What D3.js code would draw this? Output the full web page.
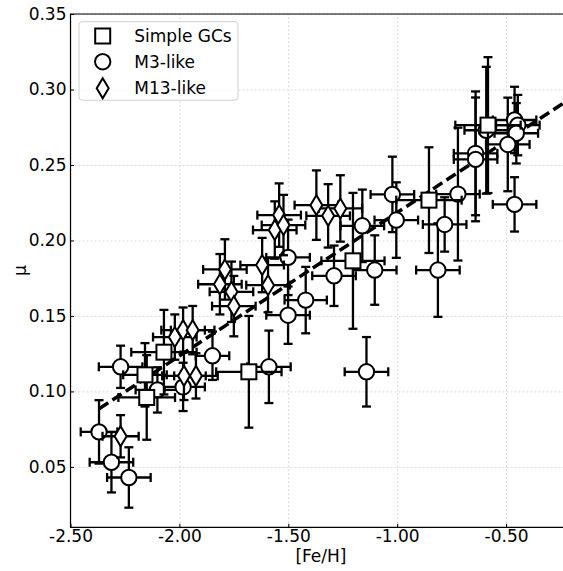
<!DOCTYPE html>
<html>
<head>
	<meta charset="UTF-8">
	<script src="https://d3js.org/d3.v7.min.js"></script>
	<style>
		body{ margin: 0; background-color: #ffffff; }
		svg{ display: block; }
		text{ font-family: "DejaVu Sans", sans-serif; }
	</style>
</head>
<body>
	<div class="chart"></div>
	<script type="text/javascript">
		// Simple GCs
		var simpleFeh    = [-2.158, -2.150, -2.071, -1.681, -1.203, -0.854, -0.583];
		var simpleMu     = [0.111, 0.096, 0.126, 0.113, 0.1865, 0.2267, 0.2764];
		var simpleFehErr = [0.10, 0.13, 0.15, 0.15, 0.145, 0.15, 0.15];
		var simpleMuErr  = [0.021, 0.028, 0.028, 0.037, 0.045, 0.035, 0.045];

		// M3-like
		var m3Feh    = [-2.369, -2.312, -2.232, -2.270, -2.101, -1.983, -1.848, -1.501, -1.501, -1.420,
		                -1.290, -1.160, -1.103, -1.022, -1.004, -1.589, -1.141, -0.782, -0.813, -0.721,
		                -0.640, -0.640, -0.591, -0.461, -0.446, -0.453, -0.492, -0.461];
		var m3Mu     = [0.0732, 0.0531, 0.043, 0.1163, 0.101, 0.103, 0.1236, 0.1888, 0.1505, 0.1605,
		                0.1766, 0.2097, 0.1804, 0.2305, 0.2135, 0.1163, 0.113, 0.2106, 0.1804, 0.2307,
		                0.2577, 0.2537, 0.273, 0.2798, 0.2764, 0.271, 0.2636, 0.2239];
		var m3FehErr = [0.084, 0.10, 0.10, 0.10, 0.10, 0.10, 0.077, 0.10, 0.10, 0.097,
		                0.10, 0.10, 0.10, 0.10, 0.10, 0.10, 0.10, 0.10, 0.10, 0.10,
		                0.10, 0.10, 0.10, 0.10, 0.10, 0.10, 0.10, 0.10];
		var m3MuErr  = [0.021, 0.020, 0.020, 0.014, 0.015, 0.016, 0.016, 0.025, 0.019, 0.022,
		                0.020, 0.024, 0.023, 0.025, 0.025, 0.024, 0.023, 0.018, 0.031, 0.044,
		                0.041, 0.041, 0.042, 0.022, 0.020, 0.020, 0.031, 0.018];

		// M13-like
		var m13Feh    = [-2.270, -1.979, -1.924, -2.021, -1.983, -1.939, -1.791, -1.814, -1.761, -1.750,
		                 -1.620, -1.593, -1.542, -1.562, -1.522, -1.371, -1.317, -1.261];
		var m13Mu     = [0.0703, 0.1103, 0.1103, 0.136, 0.1406, 0.1406, 0.1808, 0.171, 0.166, 0.1565,
		                 0.1837, 0.1704, 0.2168, 0.2069, 0.2102, 0.2234, 0.2163, 0.2212];
		var m13FehErr = [0.083, 0.10, 0.10, 0.10, 0.10, 0.10, 0.10, 0.10, 0.10, 0.10,
		                 0.10, 0.10, 0.10, 0.10, 0.10, 0.10, 0.10, 0.10];
		var m13MuErr  = [0.014, 0.016, 0.015, 0.015, 0.015, 0.016, 0.020, 0.020, 0.020, 0.020,
		                 0.018, 0.018, 0.021, 0.019, 0.020, 0.023, 0.021, 0.022];

		// linear fit
		var fitSlope = 0.095;
		var fitIntercept = 0.3135;
		var fitRange = [-2.369, -0.2];

		var xTicks = [-2.5, -2.0, -1.5, -1.0, -0.5];
		var yTicks = [0.05, 0.10, 0.15, 0.20, 0.25, 0.30, 0.35];
		var legendLabels = ["Simple GCs", "M3-like", "M13-like"];

		var w = 563;
		var h = 571;
		var l = 70.5, r = 571.4, u = 14, b = 527.3;

		var xScale = d3.scaleLinear().domain([-2.5, -0.2]).range([l, r]);
		var yScale = d3.scaleLinear().domain([0.01, 0.35]).range([b, u]);

		var svg = d3.select("div.chart")
					.append("svg")
					.attr("width", w)
					.attr("height", h);

		//grid
		svg.append("g").attr("transform", "translate(0," + b + ")")
		   .call(d3.axisBottom(xScale).tickValues(xTicks).tickSize(-(b - u)).tickFormat(""))
		   .call(function(g){ g.select(".domain").remove(); })
		   .selectAll("line").attr("stroke", "#cfcfcf").attr("stroke-width", 0.8).attr("stroke-dasharray", "2,2");
		svg.append("g").attr("transform", "translate(" + l + ",0)")
		   .call(d3.axisLeft(yScale).tickValues(yTicks).tickSize(-(r - l)).tickFormat(""))
		   .call(function(g){ g.select(".domain").remove(); })
		   .selectAll("line").attr("stroke", "#cfcfcf").attr("stroke-width", 0.8).attr("stroke-dasharray", "2,2");

		//fit line
		svg.append("line")
		   .attr("x1", xScale(fitRange[0])).attr("y1", yScale(fitSlope * fitRange[0] + fitIntercept))
		   .attr("x2", xScale(fitRange[1])).attr("y2", yScale(fitSlope * fitRange[1] + fitIntercept))
		   .attr("stroke", "black").attr("stroke-width", 3.5).attr("stroke-dasharray", "11,5");

		function diamondPath(hh, ww){
			return "M0," + (-hh) + "L" + ww + ",0L0," + hh + "L" + (-ww) + ",0Z";
		}

		function drawMarker(sel, shape){
			if(shape == "square"){
				sel.append("rect").attr("x", -7.5).attr("y", -7.5).attr("width", 15).attr("height", 15);
			} else if(shape == "circle"){
				sel.append("circle").attr("r", 7.7);
			} else {
				sel.append("path").attr("d", diamondPath(10, 6));
			}
		}

		function drawGroup(feh, mu, fehErr, muErr, shape){
			var data = feh.map(function(d, i){
				return {x: d, y: mu[i], ex: fehErr[i], ey: muErr[i]};
			});
			var cap = 4.5;
			var bars = svg.append("g").attr("stroke", "black").attr("stroke-width", 2.3)
						  .selectAll("g").data(data).enter().append("g");
			bars.append("line")
				.attr("x1", function(d){ return xScale(d.x - d.ex); })
				.attr("x2", function(d){ return xScale(d.x + d.ex); })
				.attr("y1", function(d){ return yScale(d.y); })
				.attr("y2", function(d){ return yScale(d.y); });
			bars.append("line")
				.attr("x1", function(d){ return xScale(d.x); })
				.attr("x2", function(d){ return xScale(d.x); })
				.attr("y1", function(d){ return yScale(d.y - d.ey); })
				.attr("y2", function(d){ return yScale(d.y + d.ey); });
			//caps
			[-1, 1].forEach(function(s){
				bars.append("line")
					.attr("x1", function(d){ return xScale(d.x + s * d.ex); })
					.attr("x2", function(d){ return xScale(d.x + s * d.ex); })
					.attr("y1", function(d){ return yScale(d.y) - cap; })
					.attr("y2", function(d){ return yScale(d.y) + cap; });
				bars.append("line")
					.attr("x1", function(d){ return xScale(d.x) - cap; })
					.attr("x2", function(d){ return xScale(d.x) + cap; })
					.attr("y1", function(d){ return yScale(d.y + s * d.ey); })
					.attr("y2", function(d){ return yScale(d.y + s * d.ey); });
			});
			var marks = svg.append("g").attr("fill", "white").attr("stroke", "black").attr("stroke-width", 2)
						   .selectAll("g").data(data).enter().append("g")
						   .attr("transform", function(d){ return "translate(" + xScale(d.x) + "," + yScale(d.y) + ")"; });
			drawMarker(marks, shape);
		}

		drawGroup(m3Feh, m3Mu, m3FehErr, m3MuErr, "circle");
		drawGroup(simpleFeh, simpleMu, simpleFehErr, simpleMuErr, "square");
		drawGroup(m13Feh, m13Mu, m13FehErr, m13MuErr, "diamond");

		//frame
		svg.append("path")
		   .attr("d", "M" + r + "," + u + "H" + l + "V" + b + "H" + r)
		   .attr("fill", "none").attr("stroke", "black").attr("stroke-width", 1.2);

		//axes
		var xAxis = d3.axisBottom(xScale).tickValues(xTicks).tickSizeInner(-3.5).tickSizeOuter(0).tickPadding(3)
					  .tickFormat(function(d){ return d.toFixed(2); });
		var yAxis = d3.axisLeft(yScale).tickValues(yTicks).tickSizeInner(-3.5).tickSizeOuter(0).tickPadding(4)
					  .tickFormat(function(d){ return d.toFixed(2); });
		var gx = svg.append("g").attr("transform", "translate(0," + b + ")").call(xAxis);
		var gy = svg.append("g").attr("transform", "translate(" + l + ",0)").call(yAxis);
		[gx, gy].forEach(function(g){
			g.select(".domain").remove();
			g.selectAll("text").attr("font-size", "17px").attr("font-family", "DejaVu Sans").attr("fill", "black");
			g.selectAll("line").attr("stroke", "black");
		});

		//labels
		svg.append("text").attr("x", (l + r) / 2).attr("y", 562).attr("text-anchor", "middle")
		   .attr("font-size", "17px").text("[Fe/H]");
		svg.append("text").attr("transform", "translate(26," + ((u + b) / 2) + ") rotate(-90)")
		   .attr("text-anchor", "middle").attr("font-size", "17px").text("μ");

		//legend
		var lg = svg.append("g");
		lg.append("rect").attr("x", 79).attr("y", 21.7).attr("width", 159).attr("height", 78.5).attr("rx", 3)
		  .attr("fill", "white").attr("fill-opacity", 0.8).attr("stroke", "#d0d0d0").attr("stroke-width", 1);
		var shapes = ["square", "circle", "diamond"];
		var legendY = [36, 61.7, 88.3];
		legendLabels.forEach(function(name, i){
			var m = lg.append("g").attr("transform", "translate(102.7," + legendY[i] + ")")
					  .attr("fill", "white").attr("stroke", "black").attr("stroke-width", 2);
			drawMarker(m, shapes[i]);
			lg.append("text").attr("x", 134.3).attr("y", legendY[i] + 6).attr("font-size", "17px").text(name);
		});
	</script>
</body>
</html>
